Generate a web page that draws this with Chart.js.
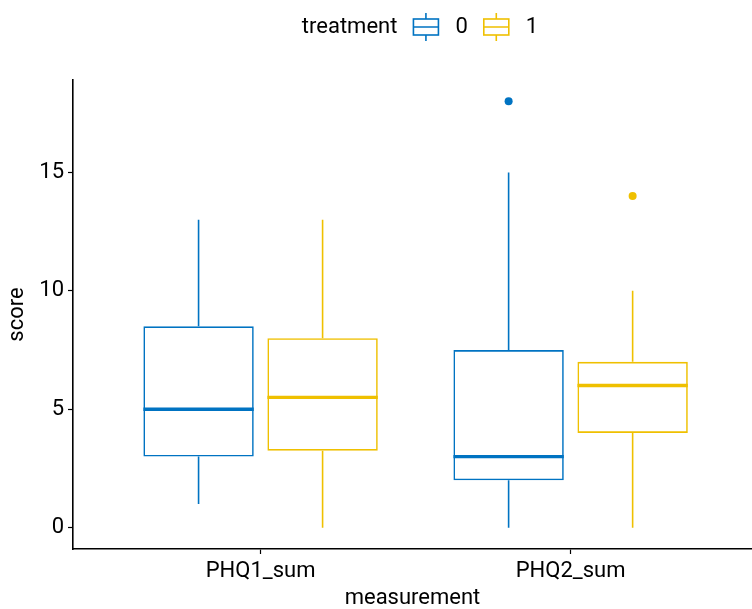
<!DOCTYPE html>
<html>
<head>
<meta charset="utf-8">
<script src="https://cdn.jsdelivr.net/npm/chart.js@4.4.1/dist/chart.umd.min.js"></script>
<style>
  body { margin: 0; background: #fff; }
  #wrap { width: 752px; height: 609px; position: relative; }
</style>
</head>
<body>
<div id="wrap"><canvas id="boxChart"></canvas></div>
<script>
// Boxplot of score by measurement and treatment

const categories = ['PHQ1_sum', 'PHQ2_sum'];
const treatments = ['0', '1'];
const yTicks = [0, 5, 10, 15];

// treatment 0
const low0 = [1, 0];
const q1_0 = [3, 2];
const median0 = [5, 3];
const q3_0 = [8.5, 7.5];
const high0 = [13, 15];
const outliers0 = [[], [18]];

// treatment 1
const low1 = [0, 0];
const q1_1 = [3.25, 4];
const median1 = [5.5, 6];
const q3_1 = [8, 7];
const high1 = [13, 10];
const outliers1 = [[], [14]];

const colors = ['#0073C2', '#EFC000'];
const FONT = 'Roboto, "DejaVu Sans", sans-serif';
const FS = 22;

const stats = [
    { low: low0, q1: q1_0, med: median0, q3: q3_0, high: high0, out: outliers0 },
    { low: low1, q1: q1_1, med: median1, q3: q3_1, high: high1, out: outliers1 }
];

const datasets = treatments.map((t, d) => ({
    label: t,
    data: categories.map((c, i) => ({ x: i + 1, y: [stats[d].q1[i], stats[d].q3[i]] })),
    backgroundColor: 'rgba(255,255,255,0)',
    borderColor: colors[d],
    borderWidth: 1.6,
    borderSkipped: false,
    categoryPercentage: 0.8,
    barPercentage: 0.89
}));

// whiskers, medians and outliers on top of the boxes
const boxExtras = {
    id: 'boxExtras',
    afterDatasetsDraw(chart) {
        const ctx = chart.ctx;
        const y = chart.scales.y;
        ctx.save();
        chart.data.datasets.forEach((ds, d) => {
            const meta = chart.getDatasetMeta(d);
            const s = stats[d];
            meta.data.forEach((bar, i) => {
                const cx = bar.x;
                const half = bar.width / 2;
                ctx.strokeStyle = colors[d];
                ctx.lineWidth = 1.6;
                ctx.beginPath();
                ctx.moveTo(cx, y.getPixelForValue(s.q3[i]));
                ctx.lineTo(cx, y.getPixelForValue(s.high[i]));
                ctx.moveTo(cx, y.getPixelForValue(s.q1[i]));
                ctx.lineTo(cx, y.getPixelForValue(s.low[i]));
                ctx.stroke();

                ctx.lineWidth = 3.4;
                ctx.beginPath();
                const my = y.getPixelForValue(s.med[i]);
                ctx.moveTo(cx - half, my);
                ctx.lineTo(cx + half, my);
                ctx.stroke();

                ctx.fillStyle = colors[d];
                s.out[i].forEach(v => {
                    ctx.beginPath();
                    ctx.arc(cx, y.getPixelForValue(v), 4, 0, Math.PI * 2);
                    ctx.fill();
                });
            });
        });
        ctx.restore();
    }
};

// ggplot-style legend: title inline with the keys
const inlineLegend = {
    id: 'inlineLegend',
    afterDraw(chart) {
        const ctx = chart.ctx;
        ctx.save();
        ctx.font = FS + 'px ' + FONT;
        ctx.textBaseline = 'middle';
        ctx.fillStyle = '#000';
        const title = 'treatment';
        const keyW = 25, gapA = 16, gapB = 17;
        const tw = ctx.measureText(title).width;
        const lw = treatments.map(t => ctx.measureText(t).width);
        let total = tw;
        treatments.forEach((t, k) => { total += gapA + keyW + gapB + lw[k]; });
        let x = 420 - total / 2;
        const cy = 27;
        ctx.fillText(title, x, cy);
        x += tw;
        treatments.forEach((t, k) => {
            x += gapA;
            ctx.strokeStyle = colors[k];
            ctx.lineWidth = 1.6;
            ctx.strokeRect(x, cy - 8, keyW, 16);
            ctx.beginPath();
            ctx.moveTo(x, cy); ctx.lineTo(x + keyW, cy);
            ctx.moveTo(x + keyW / 2, cy - 14); ctx.lineTo(x + keyW / 2, cy - 8);
            ctx.moveTo(x + keyW / 2, cy + 8); ctx.lineTo(x + keyW / 2, cy + 14);
            ctx.stroke();
            x += keyW + gapB;
            ctx.fillText(t, x, cy);
            x += lw[k];
        });
        ctx.restore();
    }
};

new Chart(document.getElementById('boxChart'), {
    type: 'bar',
    data: { datasets },
    options: {
        responsive: true,
        maintainAspectRatio: false,
        animation: false,
        layout: { padding: { top: 80, right: 0, bottom: 0, left: 0 } },
        plugins: {
            legend: { display: false },
            tooltip: { enabled: false }
        },
        scales: {
            x: {
                type: 'linear',
                offset: false,
                min: 0.395,
                max: 2.585,
                afterBuildTicks: scale => { scale.ticks = categories.map((c, i) => ({ value: i + 1 })); },
                afterFit: scale => { scale.height = 60; },
                ticks: {
                    callback: v => categories[v - 1],
                    color: '#000',
                    font: { family: FONT, size: FS },
                    padding: 4,
                    maxRotation: 0,
                    autoSkip: false
                },
                grid: { offset: false, drawOnChartArea: false, drawTicks: true, tickLength: 5, color: '#000', tickWidth: 1.2 },
                border: { display: true, color: '#000', width: 1.6 },
                title: { display: true, text: 'measurement', color: '#000', font: { family: FONT, size: FS }, padding: { top: 4, bottom: -3 } }
            },
            y: {
                min: -0.9,
                max: 18.9,
                afterBuildTicks: scale => { scale.ticks = yTicks.map(v => ({ value: v })); },
                afterFit: scale => { scale.width = 73; },
                ticks: {
                    color: '#000',
                    font: { family: FONT, size: FS },
                    padding: 4
                },
                grid: { drawOnChartArea: false, drawTicks: true, tickLength: 5, color: '#000', tickWidth: 1.2 },
                border: { display: true, color: '#000', width: 1.6 },
                title: { display: true, text: 'score', color: '#000', font: { family: FONT, size: FS }, padding: { top: 4 } }
            }
        }
    },
    plugins: [boxExtras, inlineLegend]
});
</script>
</body>
</html>
